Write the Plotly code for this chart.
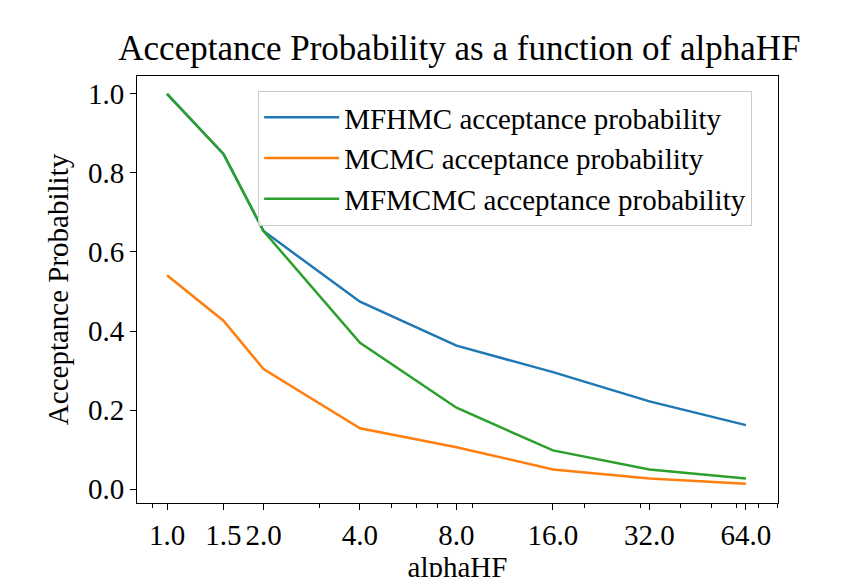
import math
import plotly.graph_objects as go

alpha_hf = [1.0, 1.5, 2.0, 4.0, 8.0, 16.0, 32.0, 64.0]
tick_labels = ["1.0", "1.5", "2.0", "4.0", "8.0", "16.0", "32.0", "64.0"]
mfhmc = [1.0, 0.848, 0.653, 0.474, 0.363, 0.296, 0.222, 0.162]
mcmc = [0.541, 0.426, 0.304, 0.154, 0.106, 0.050, 0.027, 0.014]
mfmcmc = [1.0, 0.848, 0.653, 0.370, 0.206, 0.098, 0.050, 0.027]
minor_ticks = [0.9, 2, 3, 4, 5, 6, 7, 8, 9, 20, 30, 40, 50, 60, 70, 80]

FONT = "Liberation Serif, Times New Roman, serif"
FS = 29

fig = go.Figure()
fig.add_trace(go.Scatter(x=alpha_hf, y=mfhmc, mode="lines", name="MFHMC acceptance probability",
                         line=dict(color="#1f77b4", width=2.5)))
fig.add_trace(go.Scatter(x=alpha_hf, y=mcmc, mode="lines", name="MCMC acceptance probability",
                         line=dict(color="#ff7f0e", width=2.5)))
fig.add_trace(go.Scatter(x=alpha_hf, y=mfmcmc, mode="lines", name="MFMCMC acceptance probability",
                         line=dict(color="#2ca02c", width=2.5)))

fig.update_layout(
    width=848, height=577,
    margin=dict(l=129, r=78, t=68, b=76),
    paper_bgcolor="white", plot_bgcolor="white",
    font=dict(family=FONT, size=FS, color="black"),
    title=dict(text="Acceptance Probability as a function of alphaHF", x=0.503, xref="paper",
               xanchor="center", y=1 - 40 / 577, yanchor="middle", yref="container",
               font=dict(family=FONT, size=35, color="black")),
    showlegend=True,
    legend=dict(x=0.189, y=0.965, xanchor="left", yanchor="top", itemwidth=75,
                bgcolor="rgba(255,255,255,0.8)", bordercolor="#cccccc", borderwidth=1,
                font=dict(family=FONT, size=FS, color="black"), tracegroupgap=0),
)
fig.update_xaxes(
    type="log", range=[math.log10(2 ** -0.311), math.log10(2 ** 6.332)],
    tickmode="array", tickvals=alpha_hf, ticktext=tick_labels,
    ticks="outside", ticklen=6, tickwidth=1, tickcolor="black",
    minor=dict(tickmode="array", tickvals=minor_ticks, ticks="outside", ticklen=3.5,
               tickwidth=1, tickcolor="black", showgrid=False),
    showline=True, linecolor="black", linewidth=1, mirror=True,
    showgrid=False, zeroline=False,
    tickfont=dict(family=FONT, size=FS, color="black"),
    title=dict(text="alphaHF", standoff=2, font=dict(family=FONT, size=FS, color="black")),
)
fig.update_yaxes(
    range=[-0.035, 1.045],
    tickmode="array", tickvals=[0.0, 0.2, 0.4, 0.6, 0.8, 1.0], tickformat=".1f",
    ticks="outside", ticklen=6, tickwidth=1, tickcolor="black",
    showline=True, linecolor="black", linewidth=1, mirror=True,
    showgrid=False, zeroline=False,
    tickfont=dict(family=FONT, size=FS, color="black"),
    title=dict(text="Acceptance Probability", standoff=10, font=dict(family=FONT, size=FS, color="black")),
)

fig.write_html("out.html")
